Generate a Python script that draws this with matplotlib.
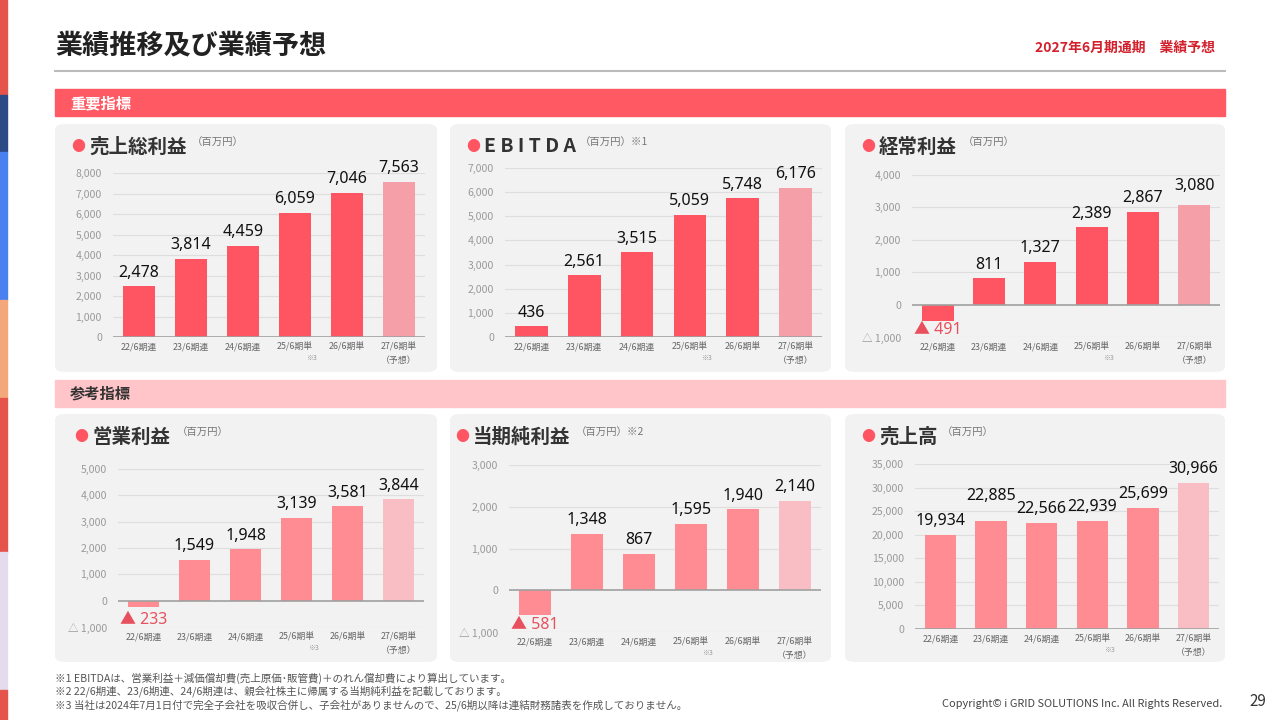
import matplotlib
matplotlib.use("Agg")
import matplotlib.pyplot as plt
from matplotlib.patches import FancyBboxPatch, Rectangle

plt.rcParams['font.family'] = ['Noto Sans CJK JP', 'DejaVu Sans']

W, H = 1280, 720

# data
periods = ['22/6期連', '23/6期連', '24/6期連', '25/6期単', '26/6期単', '27/6期単']
gross_profit = [2478, 3814, 4459, 6059, 7046, 7563]
ebitda = [436, 2561, 3515, 5059, 5748, 6176]
ordinary_profit = [-491, 811, 1327, 2389, 2867, 3080]
operating_profit = [-233, 1549, 1948, 3139, 3581, 3844]
net_profit = [-581, 1348, 867, 1595, 1940, 2140]
net_sales = [19934, 22885, 22566, 22939, 25699, 30966]

footnotes = [
    '※1 EBITDAは、営業利益＋減価償却費(売上原価･販管費)＋のれん償却費により算出しています。',
    '※2 22/6期連、23/6期連、24/6期連は、親会社株主に帰属する当期純利益を記載しております。',
    '※3 当社は2024年7月1日付で完全子会社を吸収合併し、子会社がありませんので、25/6期以降は連結財務諸表を作成しておりません。',
]

RED1, RED1_F = '#ff5562', '#f5a0a8'
RED2, RED2_F = '#ff8b93', '#f8bec3'
VALUE_FONT = ['Noto Sans', 'Noto Sans CJK JP', 'DejaVu Sans']


def fx(x):
    return x / W


def fy(y):
    return 1 - y / H


fig = plt.figure(figsize=(12.8, 7.2), dpi=100)
fig.patch.set_facecolor('white')

# left colour strip
strip = [(0, 95, '#e5544b'), (95, 152, '#2b4a86'), (152, 300, '#4a80f0'),
         (300, 398, '#f2a87a'), (398, 552, '#e5544b'), (552, 690, '#e4dcec'),
         (690, 720, '#e5544b')]
for y0, y1, c in strip:
    fig.patches.append(Rectangle((0, fy(y1)), fx(7), (y1 - y0) / H,
                                 transform=fig.transFigure, color=c, zorder=-1))

# header
fig.text(fx(55), fy(45), '業績推移及び業績予想', fontsize=19.5, fontweight='bold',
         color='#222222', va='center')
fig.text(fx(1215), fy(48), '2027年6月期通期\u3000業績予想', fontsize=10,
         fontweight='bold', color='#d4202c', va='center', ha='right')
fig.lines.append(plt.Line2D([fx(55), fx(1225)], [fy(71), fy(71)],
                            transform=fig.transFigure, color='#bbbbbb', lw=1.5))

# section bands
fig.patches.append(Rectangle((fx(55), fy(116)), fx(1170), 27 / H,
                             transform=fig.transFigure, color='#ff5964', zorder=-1))
fig.text(fx(70), fy(103), '重要指標', fontsize=11, fontweight='bold',
         color='white', va='center')
fig.patches.append(Rectangle((fx(55), fy(407)), fx(1170), 27 / H,
                             transform=fig.transFigure, color='#ffc5c9', zorder=-1))
fig.text(fx(70), fy(394), '参考指標', fontsize=11, fontweight='bold',
         color='#333333', va='center')

# panel backgrounds
for x0, x1 in [(55, 437), (450, 831), (845, 1225)]:
    for y0, y1 in [(124, 372), (414, 662)]:
        fig.patches.append(FancyBboxPatch(
            (fx(x0), fy(y1)), fx(x1 - x0), (y1 - y0) / H,
            boxstyle='round,pad=0,rounding_size=0.008',
            transform=fig.transFigure, facecolor='#f2f2f2',
            edgecolor='none', zorder=-1))


def fmt_tick(v):
    if v < 0:
        return '△ {:,}'.format(-v)
    return '{:,}'.format(v)


def draw_chart(box, values, ylim, step, colors, title, dot_xy, unit,
               unit_dx, lift=None):
    lift = lift or {}
    left, top, right, bottom = box
    ax = fig.add_axes([fx(left), fy(bottom), fx(right - left),
                       (bottom - top) / H])
    ax.set_facecolor('none')
    x = range(len(values))
    bar_colors = [colors[0]] * (len(values) - 1) + [colors[1]]
    ax.bar(x, values, width=0.62, color=bar_colors, zorder=3)
    ax.set_xlim(-0.5, len(values) - 0.5)
    ax.set_ylim(*ylim)
    ticks = list(range(ylim[0], ylim[1] + 1, step))
    ax.set_yticks(ticks)
    ax.set_yticklabels([fmt_tick(t) for t in ticks], color='#9a9a9a',
                       fontsize=7.6)
    ax.tick_params(axis='y', length=0, pad=8)
    ax.tick_params(axis='x', length=0, pad=4)
    ax.set_xticks(list(x))
    ax.set_xticklabels(periods, color='#666666', fontsize=6.4)
    for t in ticks:
        if t == 0:
            continue
        ax.axhline(t, color='#dedede', lw=0.8, zorder=1)
    ax.axhline(0, color='#a0a0a0', lw=1.2, zorder=4)
    for s in ax.spines.values():
        s.set_visible(False)

    # value labels
    for i, v in enumerate(values):
        if v >= 0:
            ax.annotate('{:,}'.format(v), (i, v), xytext=(0, 4 + lift.get(i, 0)),
                        textcoords='offset points', ha='center', va='bottom',
                        fontsize=11.5, color='#111111', zorder=5,
                        family=VALUE_FONT)
        else:
            ax.annotate('▲ {:,}'.format(-v), (i, ylim[0]), xytext=(0, -1),
                        textcoords='offset points', ha='center', va='bottom',
                        fontsize=11.5, color='#e8505e', zorder=5,
                        family=VALUE_FONT)

    # sub labels under ticks
    xt = ax.get_xaxis_transform()
    ax.annotate('※3', (3, 0), xycoords=xt, xytext=(12, -12),
                textcoords='offset points', ha='center', va='top',
                fontsize=5, color='#999999')
    ax.annotate('（予想）', (5, 0), xycoords=xt, xytext=(0, -14),
                textcoords='offset points', ha='center', va='top',
                fontsize=6.4, color='#666666')

    # panel title
    dx, dy = dot_xy
    fig.text(fx(dx), fy(dy), '●', fontsize=10, color='#ff5562',
             va='center', ha='center')
    fig.text(fx(dx + 11), fy(dy), title, fontsize=14, fontweight='bold',
             color='#333333', va='center')
    fig.text(fx(dx + 11 + unit_dx), fy(dy - 4), unit, fontsize=7.5,
             color='#777777', va='center')
    return ax


draw_chart((113, 173, 425, 337), gross_profit, (0, 8000), 1000,
           (RED1, RED1_F), '売上総利益', (78, 147), '（百万円）', 103)
draw_chart((505, 168, 822, 337), ebitda, (0, 7000), 1000,
           (RED1, RED1_F), 'E B I T D A', (473, 147), '（百万円）※1', 96)
draw_chart((912, 175, 1220, 337), ordinary_profit, (-1000, 4000), 1000,
           (RED1, RED1_F), '経常利益', (868, 147), '（百万円）', 84,
           lift={5: 4})
draw_chart((118, 469, 424, 627), operating_profit, (-1000, 5000), 1000,
           (RED2, RED2_F), '営業利益', (81, 437), '（百万円）', 85)
draw_chart((509, 465, 821, 632), net_profit, (-1000, 3000), 1000,
           (RED2, RED2_F), '当期純利益', (462, 437), '（百万円）※2', 103)
draw_chart((915, 464, 1219, 629), net_sales, (0, 35000), 5000,
           (RED2, RED2_F), '売上高', (868, 437), '（百万円）', 63,
           lift={1: 8})

# footnotes
for i, line in enumerate(footnotes):
    fig.text(fx(55), fy(678 + 13.5 * i), line, fontsize=7.6, color='#555555',
             va='center')

fig.text(fx(1222), fy(704), 'Copyright© i GRID SOLUTIONS Inc. All Rights Reserved.',
         fontsize=7.9, color='#444444', ha='right', va='center')
fig.text(fx(1266), fy(701), '29', fontsize=11, color='#333333',
         ha='right', va='center')

fig.savefig('out.png', dpi=100)
